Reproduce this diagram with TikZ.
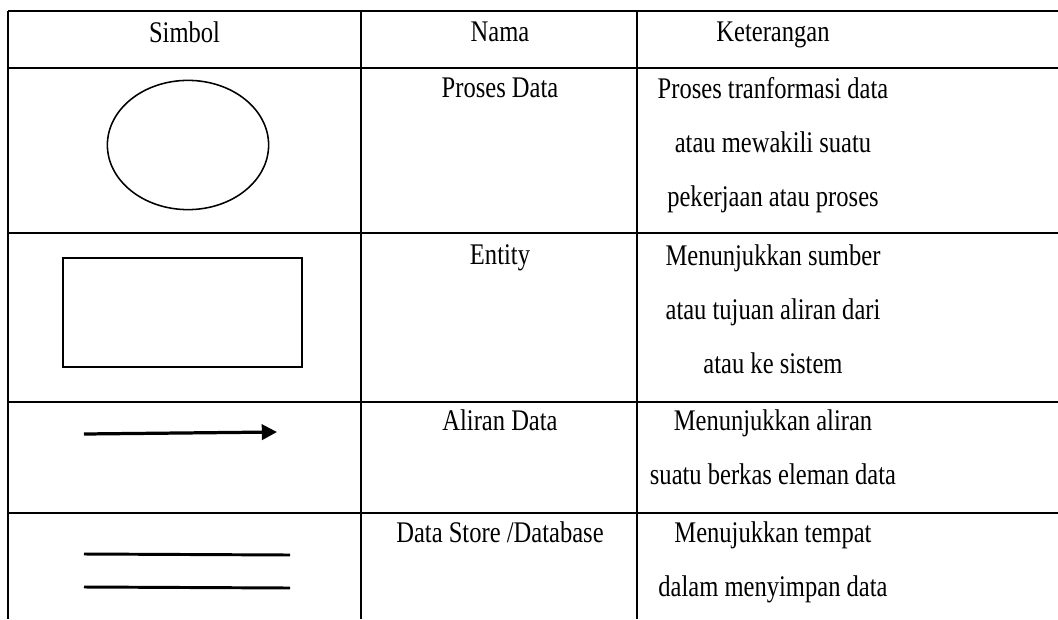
\documentclass[tikz,border=0pt]{standalone}
\usepackage{fontspec}
\setmainfont{Liberation Serif}[FakeStretch=0.82]
\usepackage{tikz}
\usetikzlibrary{shapes.geometric, arrows.meta, positioning}
\newcommand{\celltxt}{\fontsize{21.3}{38.4}\selectfont}

\begin{document}
\begin{tikzpicture}[
  x=0.025cm, y=-0.025cm,
  grid/.style={line width=1.3pt},
  cell/.style={anchor=north, align=center, inner sep=0pt, font=\celltxt},
  shp/.style={draw, line width=1.1pt, inner sep=0pt},
  flowarr/.style={-{Triangle[length=0.38cm, width=0.38cm]}, line width=2.3pt},
  storeln/.style={line width=2.1pt}
]
\useasboundingbox (0,0) rectangle (1058,619);

%% ── Table grid (no bottom rule, open on the right)
\foreach \y in {11, 68, 233, 402, 513}{
  \draw[grid] (8,\y) -- (1058,\y);
}
\foreach \x in {8, 361, 637}{
  \draw[grid] (\x,11) -- (\x,619);
}

%% ── Header
\node[cell] (hsim) at (184.5,21.5) {Simbol};
\node[cell] (hnama) at (500,21.5) {Nama};
\node[cell] (hket) at (773,21.5) {Keterangan};

%% ── Row 1: process
\node[shp, ellipse, minimum width=4.03cm, minimum height=3.23cm] (proc) at (188,145) {};
\node[cell] (n1) at (500,77.5) {Proses Data};
\node[cell] (k1) at (773,77.5) {Proses tranformasi data\\atau mewakili suatu\\pekerjaan atau proses};

%% ── Row 2: entity
\node[shp, rectangle, minimum width=5.975cm, minimum height=2.725cm] (ent) at (182.5,312.5) {};
\node[cell] (n2) at (500,244.5) {Entity};
\node[cell] (k2) at (773,244.5) {Menunjukkan sumber\\atau tujuan aliran dari\\atau ke sistem};

%% ── Row 3: data flow
\coordinate (fs) at (84,434);
\coordinate (fe) at (277,432);
\draw[flowarr] (fs) -- (fe);
\node[cell] (n3) at (500,409.5) {Aliran Data};
\node[cell] (k3) at (773,409.5) {Menunjukkan aliran\\suatu berkas eleman data};

%% ── Row 4: data store
\coordinate (s1a) at (84,554);
\coordinate (s1b) at (290,555);
\coordinate (s2a) at (84,587);
\coordinate (s2b) at (290,588);
\draw[storeln] (s1a) -- (s1b);
\draw[storeln] (s2a) -- (s2b);
\node[cell] (n4) at (500,521.5) {Data Store /Database};
\node[cell] (k4) at (773,521.5) {Menujukkan tempat\\dalam menyimpan data};

\end{tikzpicture}
\end{document}
